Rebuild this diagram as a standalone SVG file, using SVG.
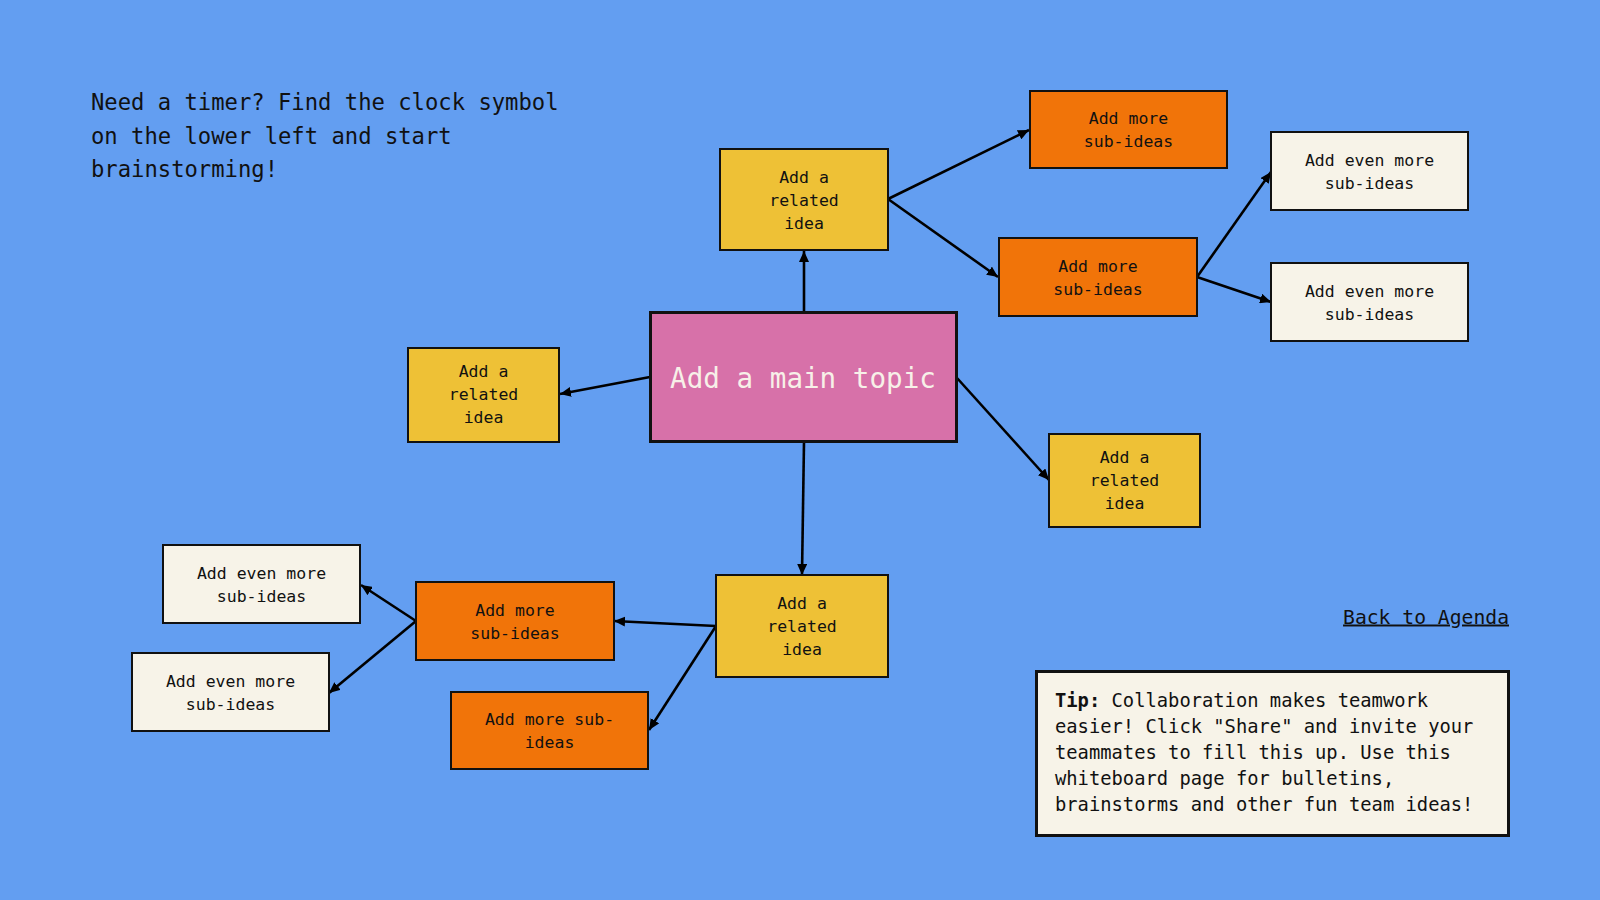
<svg xmlns="http://www.w3.org/2000/svg" width="1600" height="900" viewBox="0 0 1600 900">
<defs>
<marker id="ah" markerUnits="userSpaceOnUse" markerWidth="12" markerHeight="10" refX="11" refY="5" orient="auto">
<path d="M0,0 L11,5 L0,10 Z" fill="#000"/>
</marker>
<style>
.n{stroke:#111;stroke-width:2}
.y{fill:#eec136}
.o{fill:#f17409}
.c{fill:#f7f3e8}
.t{font-family:"DejaVu Sans Mono","Liberation Mono",monospace;font-size:16.5px;fill:#111;text-anchor:middle}
.e{stroke:#000;stroke-width:2.6;fill:none;marker-end:url(#ah)}
</style>
</defs>
<rect width="1600" height="900" fill="#639ef1"/>
<text font-family="DejaVu Sans Mono, Liberation Mono, monospace" font-size="22.2" fill="#111"><tspan x="91" y="110">Need a timer? Find the clock symbol</tspan><tspan x="91" y="143.5">on the lower left and start</tspan><tspan x="91" y="177">brainstorming!</tspan></text>
<g id="connectors">
<line class="e" x1="804" y1="312" x2="804" y2="251"/>
<line class="e" x1="650" y1="377" x2="560" y2="394"/>
<line class="e" x1="957" y1="378" x2="1049" y2="480"/>
<line class="e" x1="804" y1="442" x2="802" y2="575"/>
<line class="e" x1="888" y1="199" x2="1029" y2="130"/>
<line class="e" x1="888" y1="199" x2="998" y2="277"/>
<line class="e" x1="1197" y1="277" x2="1271" y2="172"/>
<line class="e" x1="1197" y1="277" x2="1271" y2="302"/>
<line class="e" x1="716" y1="626" x2="614" y2="621"/>
<line class="e" x1="716" y1="626" x2="649" y2="730"/>
<line class="e" x1="416" y1="621" x2="361" y2="585"/>
<line class="e" x1="416" y1="621" x2="329" y2="693"/>
</g>
<g id="main">
<rect x="650.5" y="312.5" width="306" height="129" fill="#d771a9" stroke="#111" stroke-width="3"/>
<text x="803" y="388" font-family="DejaVu Sans Mono, Liberation Mono, monospace" font-size="27.6" fill="#f7f0e8" text-anchor="middle">Add a main topic</text>
</g>
<g id="related-top">
<rect class="n y" x="720" y="149" width="168" height="101"/>
<text class="t"><tspan x="804" y="182.5">Add a</tspan><tspan x="804" y="205.5">related</tspan><tspan x="804" y="228.5">idea</tspan></text>
</g>
<g id="related-left">
<rect class="n y" x="408" y="348" width="151" height="94"/>
<text class="t"><tspan x="483.5" y="377">Add a</tspan><tspan x="483.5" y="400">related</tspan><tspan x="483.5" y="423">idea</tspan></text>
</g>
<g id="related-right">
<rect class="n y" x="1049" y="434" width="151" height="93"/>
<text class="t"><tspan x="1124.5" y="462.5">Add a</tspan><tspan x="1124.5" y="485.5">related</tspan><tspan x="1124.5" y="508.5">idea</tspan></text>
</g>
<g id="related-bottom">
<rect class="n y" x="716" y="575" width="172" height="102"/>
<text class="t"><tspan x="802" y="609">Add a</tspan><tspan x="802" y="632">related</tspan><tspan x="802" y="655">idea</tspan></text>
</g>
<g id="sub-top">
<rect class="n o" x="1030" y="91" width="197" height="77"/>
<text class="t"><tspan x="1128.5" y="124">Add more</tspan><tspan x="1128.5" y="147">sub-ideas</tspan></text>
</g>
<g id="sub-mid">
<rect class="n o" x="999" y="238" width="198" height="78"/>
<text class="t"><tspan x="1098" y="271.5">Add more</tspan><tspan x="1098" y="294.5">sub-ideas</tspan></text>
</g>
<g id="even-tr1">
<rect class="n c" x="1271" y="132" width="197" height="78"/>
<text class="t"><tspan x="1369.5" y="165.5">Add even more</tspan><tspan x="1369.5" y="188.5">sub-ideas</tspan></text>
</g>
<g id="even-tr2">
<rect class="n c" x="1271" y="263" width="197" height="78"/>
<text class="t"><tspan x="1369.5" y="296.5">Add even more</tspan><tspan x="1369.5" y="319.5">sub-ideas</tspan></text>
</g>
<g id="sub-bl1">
<rect class="n o" x="416" y="582" width="198" height="78"/>
<text class="t"><tspan x="515" y="615.5">Add more</tspan><tspan x="515" y="638.5">sub-ideas</tspan></text>
</g>
<g id="sub-bl2">
<rect class="n o" x="451" y="692" width="197" height="77"/>
<text class="t"><tspan x="549.5" y="725">Add more sub-</tspan><tspan x="549.5" y="748">ideas</tspan></text>
</g>
<g id="even-bl1">
<rect class="n c" x="163" y="545" width="197" height="78"/>
<text class="t"><tspan x="261.5" y="578.5">Add even more</tspan><tspan x="261.5" y="601.5">sub-ideas</tspan></text>
</g>
<g id="even-bl2">
<rect class="n c" x="132" y="653" width="197" height="78"/>
<text class="t"><tspan x="230.5" y="686.5">Add even more</tspan><tspan x="230.5" y="709.5">sub-ideas</tspan></text>
</g>
<g id="back-link">
<text x="1509" y="623.5" font-family="DejaVu Sans Mono, Liberation Mono, monospace" font-size="19.7" fill="#111" text-anchor="end" text-decoration="underline">Back to Agenda</text>
</g>
<g id="tip">
<rect x="1036.5" y="671.5" width="472" height="164" fill="#f7f3e8" stroke="#111" stroke-width="3"/>
<text font-family="DejaVu Sans Mono, Liberation Mono, monospace" font-size="18.8" fill="#111"><tspan x="1055" y="707"><tspan font-weight="bold">Tip:</tspan> Collaboration makes teamwork</tspan><tspan x="1055" y="733">easier! Click "Share" and invite your</tspan><tspan x="1055" y="759">teammates to fill this up. Use this</tspan><tspan x="1055" y="785">whiteboard page for bulletins,</tspan><tspan x="1055" y="811">brainstorms and other fun team ideas!</tspan></text>
</g>
</svg>
